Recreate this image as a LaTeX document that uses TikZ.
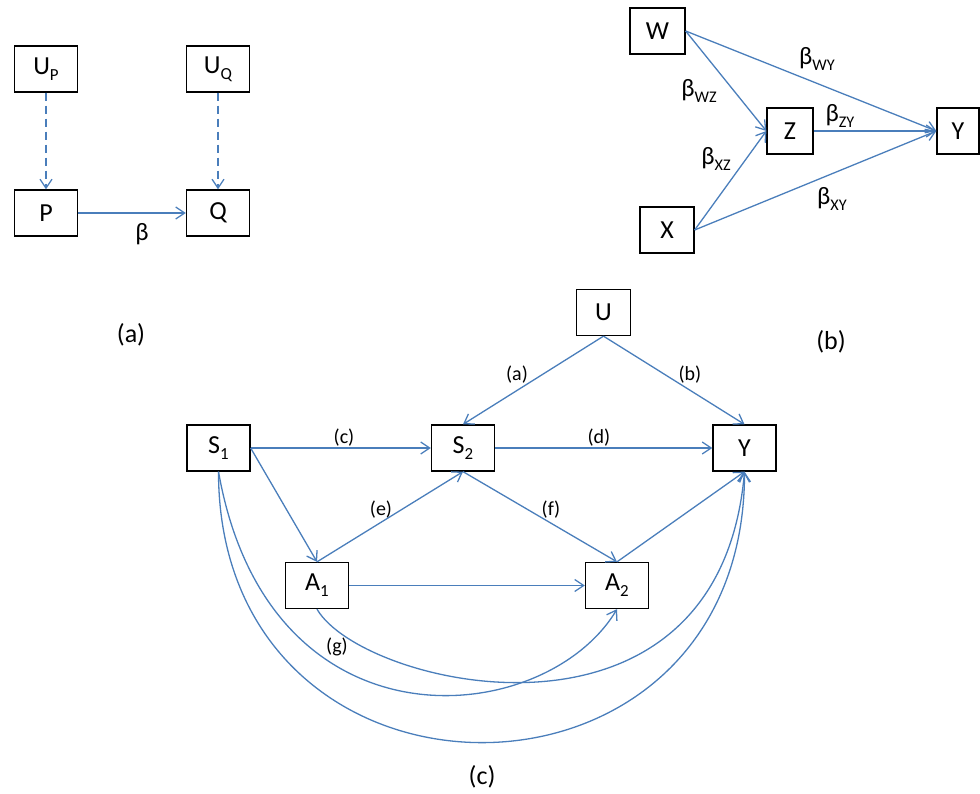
\documentclass[tikz,border=0pt]{standalone}
\usepackage{fontspec}
\setmainfont{Carlito}
\usetikzlibrary{arrows.meta}

\definecolor{linkblue}{RGB}{74,126,187}
\newcommand{\sbs}[1]{\raisebox{-0.22em}{\scalebox{0.65}{#1}}}

\begin{document}
\begin{tikzpicture}[x=0.5pt, y=0.5pt,
		box/.style={draw, line width=0.65pt, minimum width=31.5pt,
			minimum height=23pt, inner sep=0pt, font=\fontsize{13}{15}\selectfont},
		arr/.style={color=linkblue, line width=0.65pt,
			-{Straight Barb[length=4.5pt,width=6pt]}},
		dashes/.style={dash pattern=on 4pt off 2.5pt},
		lbl/.style={inner sep=0pt, font=\fontsize{10}{12}\selectfont},
		betalbl/.style={inner sep=0pt, font=\fontsize{12.5}{15}\selectfont},
		capt/.style={inner sep=0pt, font=\fontsize{13}{15}\selectfont}]
		\useasboundingbox (0,0) rectangle (980,793);

		% (a)
		\node [box] (UP) at (46,724) {U\sbs{P}};
		\node [box] (UQ) at (218,724) {U\sbs{Q}};
		\node [box] (P) at (46,580) {P};
		\node [box] (Q) at (218,580) {Q};
		\node [betalbl] (bPQ) at (142,559) {β};
		\node [capt] (capA) at (131,458) {(a)};
		\path [arr]
			(UP) edge [dashes] (P)
			(UQ) edge [dashes] (Q)
			(P) edge [] (Q);

		% (b)
		\node [box, minimum width=27.5pt] (W) at (657.5,762) {W};
		\node [box, minimum width=23pt] (Z) at (790,662) {Z};
		\node [box, minimum width=21pt] (Yb) at (958,662) {Y};
		\node [box, minimum width=27pt] (X) at (667,563) {X};
		\node [betalbl] (bWY) at (817,734) {β\sbs{WY}};
		\node [betalbl] (bWZ) at (699,702) {β\sbs{WZ}};
		\node [betalbl] (bZY) at (840,677) {β\sbs{ZY}};
		\node [betalbl] (bXZ) at (716,634) {β\sbs{XZ}};
		\node [betalbl] (bXY) at (832,594) {β\sbs{XY}};
		\node [capt] (capB) at (831,451) {(b)};
		\path [arr]
			(W.east) edge [] (Z.west)
			(W.east) edge [] (Yb.west)
			(Z) edge [] (Yb)
			(X.east) edge [] (Z.west)
			(X.east) edge [] (Yb.west);

		% (c)
		\node [box, minimum width=27pt] (U) at (603.5,480.5) {U};
		\node [box] (S1) at (218.5,345) {S\sbs{1}};
		\node [box] (S2) at (463,345) {S\sbs{2}};
		\node [box] (Yc) at (744.5,345) {Y};
		\node [box] (A1) at (317,207.5) {A\sbs{1}};
		\node [box] (A2) at (617,207.5) {A\sbs{2}};
		\node [lbl] (la) at (517,418) {(a)};
		\node [lbl] (lb) at (690,418) {(b)};
		\node [lbl] (lc) at (344,355) {(c)};
		\node [lbl] (ld) at (599,355) {(d)};
		\node [lbl] (le) at (381,283) {(e)};
		\node [lbl] (lf) at (551,283) {(f)};
		\node [lbl] (lg) at (337,146) {(g)};
		\node [capt] (capC) at (482,16) {(c)};
		\path [arr]
			(U.south) edge [] (S2.north)
			(U.south) edge [] (Yc.north)
			(S1) edge [] (S2)
			(S2) edge [] (Yc)
			(S1.east) edge [] (A1.north)
			(A1.north) edge [] (S2.south)
			(S2.south) edge [] (A2.north)
			(A2.north) edge [] (Yc.south)
			(A1) edge [] (A2)
			(S1.south) edge [out=-80, in=-121, out distance=145pt, in distance=70pt] (A2.south)
			(S1.south) edge [out=-90, in=-90, distance=180.5pt] (Yc.south)
			(A1.south) edge [out=-60, in=-95, out distance=45pt, in distance=150pt] (Yc.south);
\end{tikzpicture}
\end{document}
